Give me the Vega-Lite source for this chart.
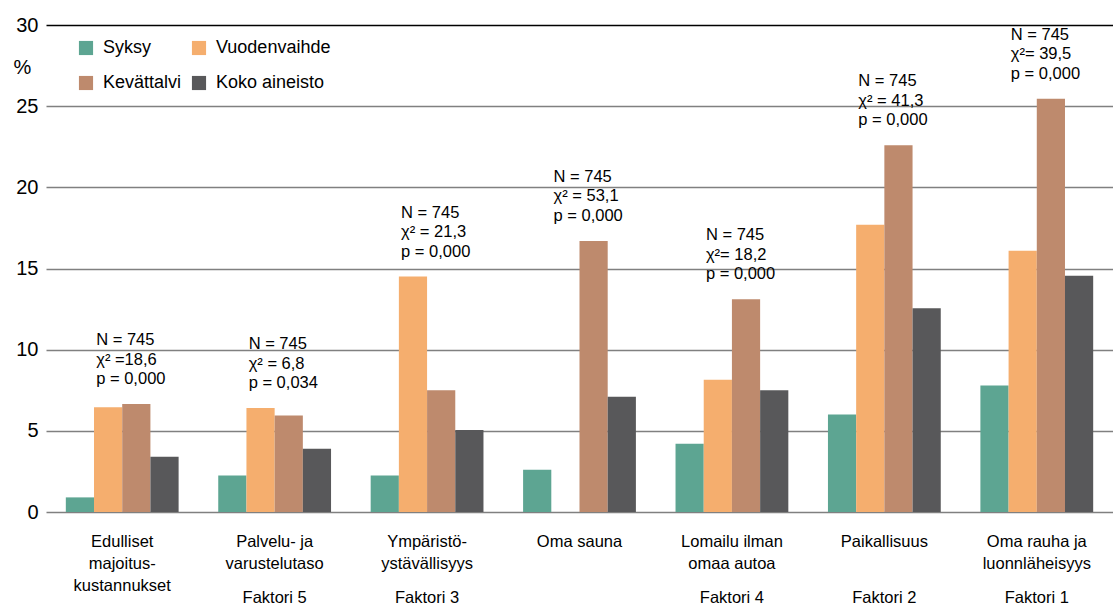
{
  "$schema": "https://vega.github.io/schema/vega-lite/v6.json",
  "width": 1067,
  "height": 487,
  "autosize": {"type": "none"},
  "padding": {"left": 46, "top": 25, "right": 0, "bottom": 96},
  "config": {"font": "Liberation Sans", "view": {"stroke": null}},
  "datasets": {
    "bars": [
      {"category": "Edulliset|majoitus-|kustannukset", "series": "Syksy", "pct": 0.9},
      {"category": "Edulliset|majoitus-|kustannukset", "series": "Vuodenvaihde", "pct": 6.45},
      {"category": "Edulliset|majoitus-|kustannukset", "series": "Kevättalvi", "pct": 6.65},
      {"category": "Edulliset|majoitus-|kustannukset", "series": "Koko aineisto", "pct": 3.4},
      {"category": "Palvelu- ja|varustelutaso", "series": "Syksy", "pct": 2.25},
      {"category": "Palvelu- ja|varustelutaso", "series": "Vuodenvaihde", "pct": 6.4},
      {"category": "Palvelu- ja|varustelutaso", "series": "Kevättalvi", "pct": 5.95},
      {"category": "Palvelu- ja|varustelutaso", "series": "Koko aineisto", "pct": 3.9},
      {"category": "Ympäristö-|ystävällisyys", "series": "Syksy", "pct": 2.25},
      {"category": "Ympäristö-|ystävällisyys", "series": "Vuodenvaihde", "pct": 14.5},
      {"category": "Ympäristö-|ystävällisyys", "series": "Kevättalvi", "pct": 7.5},
      {"category": "Ympäristö-|ystävällisyys", "series": "Koko aineisto", "pct": 5.05},
      {"category": "Oma sauna", "series": "Syksy", "pct": 2.6},
      {"category": "Oma sauna", "series": "Kevättalvi", "pct": 16.7},
      {"category": "Oma sauna", "series": "Koko aineisto", "pct": 7.1},
      {"category": "Lomailu ilman|omaa autoa", "series": "Syksy", "pct": 4.2},
      {"category": "Lomailu ilman|omaa autoa", "series": "Vuodenvaihde", "pct": 8.15},
      {"category": "Lomailu ilman|omaa autoa", "series": "Kevättalvi", "pct": 13.1},
      {"category": "Lomailu ilman|omaa autoa", "series": "Koko aineisto", "pct": 7.5},
      {"category": "Paikallisuus", "series": "Syksy", "pct": 6.0},
      {"category": "Paikallisuus", "series": "Vuodenvaihde", "pct": 17.7},
      {"category": "Paikallisuus", "series": "Kevättalvi", "pct": 22.6},
      {"category": "Paikallisuus", "series": "Koko aineisto", "pct": 12.55},
      {"category": "Oma rauha ja|luonnläheisyys", "series": "Syksy", "pct": 7.8},
      {"category": "Oma rauha ja|luonnläheisyys", "series": "Vuodenvaihde", "pct": 16.1},
      {"category": "Oma rauha ja|luonnläheisyys", "series": "Kevättalvi", "pct": 25.45},
      {"category": "Oma rauha ja|luonnläheisyys", "series": "Koko aineisto", "pct": 14.55}
    ],
    "notes": [
      {"category": "Edulliset|majoitus-|kustannukset", "note": "N = 745\nχ² =18,6\np = 0,000", "faktori": ""},
      {"category": "Palvelu- ja|varustelutaso", "note": "N = 745\nχ² = 6,8\np = 0,034", "faktori": "Faktori 5"},
      {"category": "Ympäristö-|ystävällisyys", "note": "N = 745\nχ² = 21,3\np = 0,000", "faktori": "Faktori 3"},
      {"category": "Oma sauna", "note": "N = 745\nχ² = 53,1\np = 0,000", "faktori": ""},
      {"category": "Lomailu ilman|omaa autoa", "note": "N = 745\nχ²= 18,2\np = 0,000", "faktori": "Faktori 4"},
      {"category": "Paikallisuus", "note": "N = 745\nχ² = 41,3\np = 0,000", "faktori": "Faktori 2"},
      {"category": "Oma rauha ja|luonnläheisyys", "note": "N = 745\nχ²= 39,5\np = 0,000", "faktori": "Faktori 1"}
    ]
  },
  "layer": [
    {
      "data": {"name": "bars"},
      "mark": {"type": "bar"},
      "encoding": {
        "x": {
          "field": "category",
          "type": "nominal",
          "title": null,
          "scale": {
            "domain": ["Edulliset|majoitus-|kustannukset", "Palvelu- ja|varustelutaso", "Ympäristö-|ystävällisyys", "Oma sauna", "Lomailu ilman|omaa autoa", "Paikallisuus", "Oma rauha ja|luonnläheisyys"],
            "paddingInner": 0.26,
            "paddingOuter": 0.13
          },
          "axis": {
            "title": null,
            "labelAngle": 0,
            "labelExpr": "split(datum.label, '|')",
            "labelFontSize": 16.5,
            "labelLineHeight": 22,
            "labelPadding": 21,
            "labelBaseline": "top",
            "labelColor": "black",
            "labelLimit": 0,
            "domain": false,
            "ticks": false
          }
        },
        "xOffset": {
          "field": "series",
          "type": "nominal",
          "scale": {"domain": ["Syksy", "Vuodenvaihde", "Kevättalvi", "Koko aineisto"], "paddingInner": 0, "paddingOuter": 0}
        },
        "y": {
          "field": "pct",
          "type": "quantitative",
          "title": "%",
          "scale": {"domain": [0, 30], "nice": false},
          "axis": {
            "title": "%",
            "titleAngle": 0,
            "titleX": -24,
            "titleY": 42,
            "titleAlign": "center",
            "titleBaseline": "middle",
            "titleFontSize": 20,
            "titleFontWeight": "normal",
            "titleColor": "black",
            "values": [0, 5, 10, 15, 20, 25, 30],
            "labelFontSize": 20,
            "labelPadding": 8,
            "labelColor": "black",
            "domain": false,
            "ticks": false,
            "gridColor": {"condition": {"test": "datum.value === 30", "value": "black"}, "value": "#808080"},
            "gridWidth": 1.5
          }
        },
        "color": {
          "field": "series",
          "type": "nominal",
          "scale": {"domain": ["Syksy", "Vuodenvaihde", "Kevättalvi", "Koko aineisto"], "range": ["#5da592", "#f5ae6e", "#be8a6d", "#58585a"]},
          "legend": {
            "title": null,
            "orient": "none",
            "legendX": 31,
            "legendY": 14,
            "columns": 2,
            "values": ["Syksy", "Kevättalvi", "Vuodenvaihde", "Koko aineisto"],
            "symbolType": "square",
            "symbolSize": 200,
            "symbolStrokeWidth": 0,
            "labelFontSize": 18,
            "labelOffset": 8,
            "columnPadding": 8,
            "rowPadding": 17,
            "padding": 0,
            "labelColor": "black"
          }
        }
      }
    },
    {
      "data": {"name": "bars"},
      "transform": [
        {"aggregate": [{"op": "max", "field": "pct", "as": "top"}], "groupby": ["category"]},
        {"lookup": "category", "from": {"data": {"name": "notes"}, "key": "category", "fields": ["note"]}}
      ],
      "mark": {"type": "text", "align": "left", "baseline": "top", "dx": -26, "dy": -72, "fontSize": 16.5, "lineHeight": 19.5, "lineBreak": "\n", "color": "black"},
      "encoding": {
        "x": {"field": "category", "type": "nominal", "title": null},
        "y": {"field": "top", "type": "quantitative", "title": "%"},
        "text": {"field": "note"}
      }
    },
    {
      "data": {"name": "notes"},
      "transform": [{"filter": "datum.faktori != ''"}],
      "mark": {"type": "text", "baseline": "middle", "fontSize": 16.5, "color": "black"},
      "encoding": {
        "x": {"field": "category", "type": "nominal", "title": null},
        "y": {"datum": -5.3, "title": "%"},
        "text": {"field": "faktori"}
      }
    }
  ]
}
